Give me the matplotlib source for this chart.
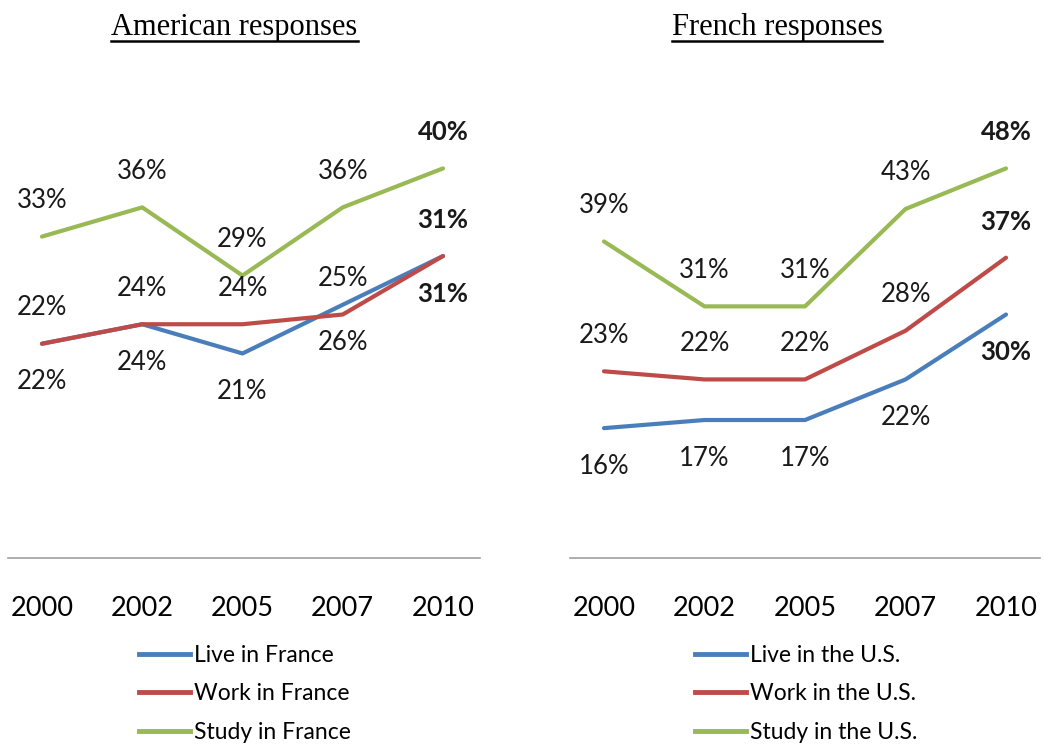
import matplotlib
matplotlib.use('Agg')
import matplotlib.pyplot as plt
from matplotlib.lines import Line2D

years = ['2000', '2002', '2005', '2007', '2010']

us_live = [22, 24, 21, 26, 31]
us_work = [22, 24, 24, 25, 31]
us_study = [33, 36, 29, 36, 40]

fr_live = [16, 17, 17, 22, 30]
fr_work = [23, 22, 22, 28, 37]
fr_study = [39, 31, 31, 43, 48]

BLUE = '#4a7ebb'
RED = '#be4b48'
GREEN = '#98b954'

plt.rcParams['font.family'] = ['Lato', 'DejaVu Sans']

fig = plt.figure(figsize=(10.45, 7.44), dpi=100)


def panel(rect, xlim, ymax, series, names, title, title_x, legend_anchor):
    ax = fig.add_axes(rect)
    xs = list(range(len(years)))
    for vals, color, name, side in series:
        ax.plot(xs, vals, color=color, lw=3, label=name, solid_capstyle='round')
        for i, v in enumerate(vals):
            dy = 36 if side == 'above' else -38
            ax.annotate(f'{v}%', xy=(i, v), xytext=(0, dy), textcoords='offset pixels',
                        ha='center', va='center', fontsize=18.5, color='#1a1a1a',
                        fontweight='bold' if i == len(vals) - 1 else 'normal')
    ax.set_xlim(*xlim)
    ax.set_ylim(0, ymax)
    ax.set_xticks(xs)
    ax.set_xticklabels(years, fontsize=19.5)
    ax.tick_params(axis='x', length=0, pad=27)
    ax.set_yticks([])
    for s in ['top', 'left', 'right']:
        ax.spines[s].set_visible(False)
    ax.spines['bottom'].set_color('#a0a0a0')
    ax.spines['bottom'].set_linewidth(1.2)
    handles = [Line2D([], [], color=c, lw=3.5) for _, c, _, _ in series]
    ax.legend(handles, names, loc='upper left', bbox_to_anchor=legend_anchor,
              bbox_transform=fig.transFigure, frameon=False, fontsize=16.5,
              handlelength=2.2, handletextpad=0.2, labelspacing=0.75, borderaxespad=0)
    t = fig.text(title_x, 1 - 27 / 744, title, ha='center', va='center',
                 fontsize=22, family='Liberation Serif')
    return ax, t


ax1, t1 = panel([8 / 1045, 186 / 744, 472 / 1045, 487 / 744], (-0.339, 4.369), 50,
                [(us_live, BLUE, 'Live in France', 'below'),
                 (us_work, RED, 'Work in France', 'above'),
                 (us_study, GREEN, 'Study in France', 'above')],
                ['Live in France', 'Work in France', 'Study in France'],
                'American responses', 234.5 / 1045, (130 / 1045, 1 - 636 / 744))

ax2, t2 = panel([570 / 1045, 186 / 744, 470 / 1045, 487 / 744], (-0.338, 4.338), 60,
                [(fr_live, BLUE, 'Live in the U.S.', 'below'),
                 (fr_work, RED, 'Work in the U.S.', 'above'),
                 (fr_study, GREEN, 'Study in the U.S.', 'above')],
                ['Live in the U.S.', 'Work in the U.S.', 'Study in the U.S.'],
                'French responses', 777 / 1045, (686 / 1045, 1 - 636 / 744))

# underline the titles
fig.canvas.draw()
r = fig.canvas.get_renderer()
inv = fig.transFigure.inverted()
for t in (t1, t2):
    bb = t.get_window_extent(r)
    (x0, y0), (x1, _) = inv.transform([(bb.x0, bb.y0), (bb.x1, bb.y1)])
    fig.add_artist(Line2D([x0, x1], [y0 + 0.001, y0 + 0.001], color='black', lw=1.8,
                          transform=fig.transFigure))

fig.savefig('out.png', dpi=100)
